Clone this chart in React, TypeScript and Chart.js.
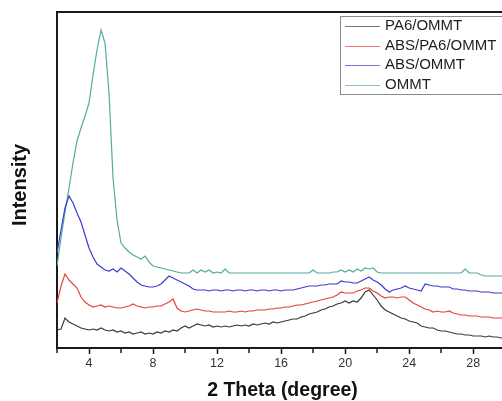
import { useEffect, useRef } from 'react';
import { Chart, registerables } from 'chart.js';

Chart.register(...registerables);

// 2θ sampling grid (degrees)
const theta = [
  2, 2.25, 2.5, 2.75, 3, 3.25, 3.5, 3.75,
  4, 4.25, 4.5, 4.75, 5, 5.25, 5.5, 5.75,
  6, 6.25, 6.5, 6.75, 7, 7.25, 7.5, 7.75,
  8, 8.25, 8.5, 8.75, 9, 9.25, 9.5, 9.75,
  10, 10.25, 10.5, 10.75, 11, 11.25, 11.5, 11.75,
  12, 12.25, 12.5, 12.75, 13, 13.25, 13.5, 13.75,
  14, 14.25, 14.5, 14.75, 15, 15.25, 15.5, 15.75,
  16, 16.25, 16.5, 16.75, 17, 17.25, 17.5, 17.75,
  18, 18.25, 18.5, 18.75, 19, 19.25, 19.5, 19.75,
  20, 20.25, 20.5, 20.75, 21, 21.25, 21.5, 21.75,
  22, 22.25, 22.5, 22.75, 23, 23.25, 23.5, 23.75,
  24, 24.25, 24.5, 24.75, 25, 25.25, 25.5, 25.75,
  26, 26.25, 26.5, 26.75, 27, 27.25, 27.5, 27.75,
  28, 28.25, 28.5, 28.75, 29, 29.25, 29.5, 29.75,
  30,
];

const pa6Ommt = [
  18, 19, 30, 26, 24, 22, 20, 19,
  18, 19, 18, 20, 18, 17, 18, 16,
  17, 15, 16, 14, 15, 16, 14, 15,
  14, 16, 15, 17, 16, 18, 17, 20,
  22, 20, 22, 24, 23, 22, 23, 21,
  22, 21, 22, 21, 22, 23, 22, 23,
  22, 24, 23, 24, 25, 24, 26, 25,
  26, 27, 28, 29, 29, 31, 32, 34,
  35, 36, 38, 39, 41, 42, 44, 45,
  47, 45, 47, 46, 50, 56, 58, 53,
  48, 42, 38, 36, 34, 32, 30, 29,
  27, 26, 25, 22, 21, 20, 20, 18,
  17, 17, 16, 15, 14, 14, 13, 13,
  12, 12, 12, 11, 12, 11, 11, 10,
  10,
];

const absPa6Ommt = [
  45, 62, 74, 68, 64, 60, 51, 46,
  43, 41, 42, 43, 41, 42, 41, 40,
  40, 41, 42, 44, 42, 41, 40, 41,
  41, 42, 42, 44, 46, 49, 40, 37,
  36, 37, 38, 39, 38, 37, 37, 36,
  36, 36, 36, 37, 36, 36, 37, 36,
  37, 37, 38, 38, 38, 39, 39, 40,
  40, 41, 41, 42, 43, 43, 44, 45,
  46, 47, 48, 49, 50, 51, 53, 56,
  55, 55, 55, 57, 58, 60, 60, 57,
  55, 52, 50, 51, 51, 50, 51, 51,
  48, 45, 43, 41, 39, 38, 36, 37,
  36, 36, 37, 35, 34, 33, 33, 32,
  32, 32, 31, 31, 31, 30, 30, 30,
  30,
];

const absOmmt = [
  95, 118, 140, 152, 145, 135, 126, 113,
  100, 91, 84, 81, 78, 77, 79, 76,
  80, 77, 74, 70, 66, 63, 62, 61,
  61, 62, 64, 68, 72, 70, 68, 66,
  64, 62, 59, 58, 58, 58, 57, 58,
  58, 57, 58, 58, 57, 58, 58, 57,
  58, 58, 57, 58, 58, 57, 58, 58,
  57, 58, 58, 58, 59, 60, 61, 62,
  62, 62, 63, 63, 64, 64, 64, 67,
  66, 66, 65, 65, 67, 69, 71, 68,
  66, 63, 59, 56, 58, 59, 60, 62,
  60, 59, 58, 57, 64, 63, 62, 62,
  61, 61, 61, 59, 59, 58, 58, 57,
  57, 57, 56, 56, 56, 55, 55, 55,
  55,
];

const ommt = [
  82, 110, 136, 160, 185, 207, 220, 232,
  245, 273, 298, 318, 305, 255, 170, 128,
  105, 100, 96, 93, 91, 89, 92, 86,
  82, 81, 80, 79, 78, 77, 76, 75,
  75, 75, 78, 75, 78, 76, 78, 75,
  76, 75, 79, 75, 75, 75, 75, 75,
  75, 75, 75, 75, 75, 75, 75, 75,
  75, 75, 75, 75, 75, 75, 75, 75,
  78, 75, 75, 75, 75, 76, 76, 78,
  76, 78, 76, 79, 77, 80, 79, 80,
  76, 75, 75, 75, 75, 75, 75, 75,
  75, 75, 75, 75, 75, 75, 75, 75,
  75, 75, 75, 75, 75, 75, 79, 75,
  75, 75, 73, 72, 72, 72, 72, 72,
  72,
];

const seriesNames = ['PA6/OMMT', 'ABS/PA6/OMMT', 'ABS/OMMT', 'OMMT'];
const seriesValues = [pa6Ommt, absPa6Ommt, absOmmt, ommt];
const seriesColors = ['#3a3a3a', '#e8423c', '#3b3bd2', '#52aaa0'];

const minorTicks = [2, 6, 10, 14, 18, 22, 26];
const xTitle = '2 Theta (degree)';
const yTitle = 'Intensity';

const FONT = '"Liberation Sans", Arial, sans-serif';

const decorPlugin = {
  id: 'decor',
  afterDraw(chart: any) {
    const { ctx, chartArea, scales } = chart;
    ctx.save();
    // top frame line
    ctx.strokeStyle = '#1a1a1a';
    ctx.lineWidth = 2;
    ctx.beginPath();
    ctx.moveTo(chartArea.left - 1, chartArea.top);
    ctx.lineTo(chartArea.right, chartArea.top);
    ctx.stroke();
    // minor ticks
    ctx.lineWidth = 1.5;
    ctx.beginPath();
    for (const v of minorTicks) {
      const x = Math.round(scales.x.getPixelForValue(v));
      ctx.moveTo(x, chartArea.bottom);
      ctx.lineTo(x, chartArea.bottom + 5);
    }
    ctx.stroke();
    // axis titles
    ctx.fillStyle = '#111';
    ctx.textAlign = 'center';
    ctx.textBaseline = 'middle';
    ctx.font = `bold 19.5px ${FONT}`;
    ctx.fillText(xTitle, 282.5, 391);
    ctx.font = `bold 20px ${FONT}`;
    ctx.save();
    ctx.translate(20, 185);
    ctx.rotate(-Math.PI / 2);
    ctx.fillText(yTitle, 0, 0);
    ctx.restore();
    // legend
    const lx = 340;
    const ly = 16;
    ctx.strokeStyle = '#8a8a8a';
    ctx.lineWidth = 1;
    ctx.strokeRect(lx + 0.5, ly + 0.5, 200, 78);
    ctx.font = `15px ${FONT}`;
    ctx.textAlign = 'left';
    ctx.fillStyle = '#1e1e1e';
    seriesNames.forEach((name, i) => {
      const y = 26 + i * 19.5;
      ctx.strokeStyle = seriesColors[i];
      ctx.globalAlpha = 0.7;
      ctx.beginPath();
      ctx.moveTo(345, Math.round(y) + 0.5);
      ctx.lineTo(380, Math.round(y) + 0.5);
      ctx.stroke();
      ctx.globalAlpha = 1;
      ctx.fillText(name, 385, y);
    });
    ctx.restore();
  },
};

export default function App() {
  const ref = useRef<HTMLCanvasElement | null>(null);
  useEffect(() => {
    if (!ref.current) return;
    const chart = new Chart(ref.current, {
      type: 'line',
      data: {
        datasets: seriesNames.map((name, i) => ({
          label: name,
          data: theta.map((t, j) => ({ x: t, y: seriesValues[i][j] })),
          borderColor: seriesColors[i],
          borderWidth: 1.2,
          pointRadius: 0,
          tension: 0,
          fill: false,
        })),
      },
      options: {
        animation: false,
        responsive: false,
        devicePixelRatio: 1,
        layout: { padding: { top: 12, left: 0, right: 0, bottom: 0 } },
        plugins: { legend: { display: false }, tooltip: { enabled: false } },
        scales: {
          x: {
            type: 'linear',
            min: 2,
            max: 29.8,
            afterFit: (s: any) => { s.height = 53; },
            grid: {
              display: true,
              drawOnChartArea: false,
              drawTicks: true,
              tickLength: 6,
              tickWidth: 1.5,
              tickColor: (c: any) => (c.tick && c.tick.value % 4 === 0 ? '#1a1a1a' : 'rgba(0,0,0,0)'),
            },
            border: { display: true, color: '#1a1a1a', width: 2 },
            ticks: {
              stepSize: 2,
              includeBounds: false,
              autoSkip: false,
              maxRotation: 0,
              padding: 2,
              color: '#333',
              font: { family: FONT, size: 12.5 },
              callback: (v: any) => (Number(v) % 4 === 0 ? String(v) : ''),
            },
          },
          y: {
            type: 'linear',
            min: 0,
            max: 336,
            afterFit: (s: any) => { s.width = 57; },
            grid: { display: false, drawTicks: false },
            border: { display: true, color: '#1a1a1a', width: 2 },
            ticks: { display: false },
          },
        },
      },
      plugins: [decorPlugin],
    });
    return () => chart.destroy();
  }, []);
  return (
    <div style={{ position: 'absolute', left: 0, top: 0, width: 502, height: 401, background: '#fff' }}>
      <canvas ref={ref} width={502} height={401} style={{ display: 'block' }} />
    </div>
  );
}
